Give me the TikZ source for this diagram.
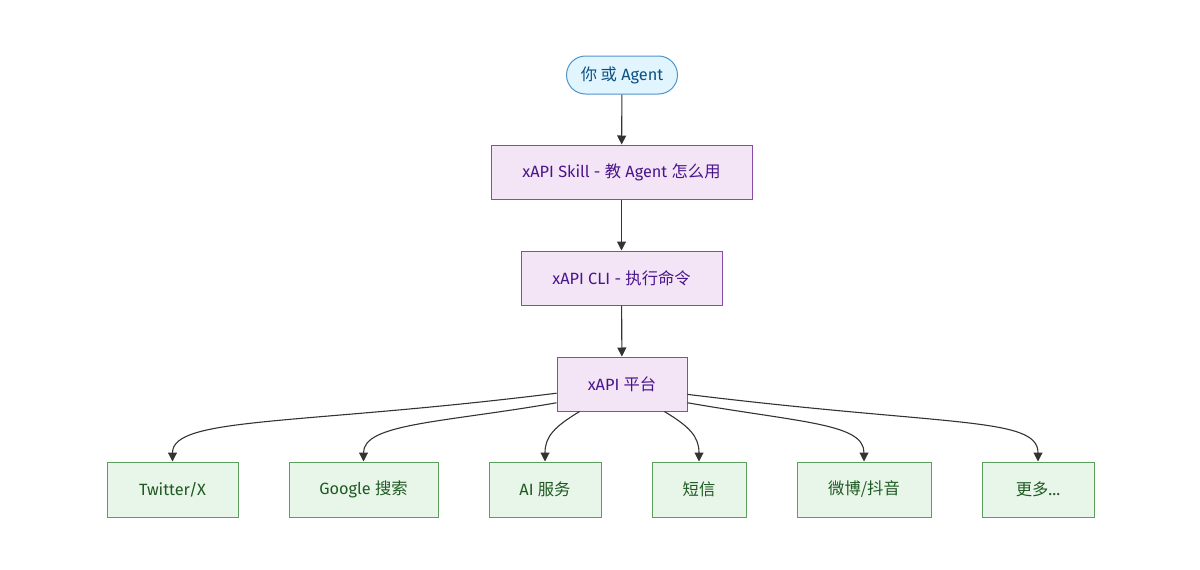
\documentclass[tikz,border=0pt]{standalone}
\usepackage{fontspec}
\setmainfont{Fira Sans}
\newfontfamily\cjk{Noto Sans CJK SC}
\usetikzlibrary{arrows.meta,shapes.misc,positioning}

\definecolor{userfill}{HTML}{E1F5FE}
\definecolor{userline}{HTML}{4F94C8}
\definecolor{usertext}{HTML}{0D4F80}
\definecolor{toolfill}{HTML}{F3E5F5}
\definecolor{toolline}{HTML}{8A4AA8}
\definecolor{tooltext}{HTML}{4A148C}
\definecolor{svcfill}{HTML}{E8F5E9}
\definecolor{svcline}{HTML}{5C9E5C}
\definecolor{svctext}{HTML}{1F5A22}
\definecolor{edgecol}{HTML}{333333}

\tikzset{
  userbox/.style={rounded rectangle, draw=userline, fill=userfill, text=usertext,
    line width=1pt, minimum width=111pt, minimum height=38pt, inner sep=0pt},
  toolbox/.style={rectangle, draw=toolline, fill=toolfill, text=tooltext,
    line width=1pt, minimum height=54pt, inner sep=0pt},
  svcbox/.style={rectangle, draw=svcline, fill=svcfill, text=svctext,
    line width=1pt, minimum height=55pt, inner sep=0pt},
  link/.style={draw=edgecol, line width=1.1pt,
    -{Triangle[length=9pt,width=9pt]}}
}

\begin{document}
\begin{tikzpicture}[x=1pt,y=1pt,font=\fontsize{16.3}{19}\selectfont]
\useasboundingbox (0,0) rectangle (1200,-570);

% top of the chain
\node[userbox] (you) at (622,-75) {{\cjk 你 或} Agent};
\node[toolbox, minimum width=261pt] (skill) at (621.5,-172) {xAPI Skill - {\cjk 教} Agent {\cjk 怎么用}};
\node[toolbox, minimum width=201pt] (cli) at (621.5,-278) {xAPI CLI - {\cjk 执行命令}};
\node[toolbox, minimum width=130pt] (plat) at (622,-384) {xAPI {\cjk 平台}};

% services
\node[svcbox, minimum width=131pt] (tw) at (172.5,-489.5) {Twitter/X};
\node[svcbox, minimum width=149pt] (gg) at (363.5,-489.5) {Google {\cjk 搜索}};
\node[svcbox, minimum width=112pt] (ai) at (545,-489.5) {AI {\cjk 服务}};
\node[svcbox, minimum width=94pt] (sms) at (699,-489.5) {\cjk 短信};
\node[svcbox, minimum width=134pt] (wb) at (864,-489.5) {\cjk 微博/抖音};
\node[svcbox, minimum width=112pt] (more) at (1038,-489.5) {{\cjk 更多}...};

\draw[link] (you) -- (skill);
\draw[link] (skill) -- (cli);
\draw[link] (cli) -- (plat);

\draw[link] (plat.188) .. controls +(-257,-32) and +(0,45) .. (tw.north);
\draw[link] (plat.196) .. controls +(-115,-20) and +(0,38) .. (gg.north);
\draw[link] (plat.213) .. controls +(-25,-15) and +(0,25) .. (ai.north);
\draw[link] (plat.327) .. controls +(25,-15) and +(0,25) .. (sms.north);
\draw[link] (plat.344) .. controls +(115,-20) and +(0,38) .. (wb.north);
\draw[link] (plat.351) .. controls +(260,-32) and +(0,45) .. (more.north);
\end{tikzpicture}
\end{document}
